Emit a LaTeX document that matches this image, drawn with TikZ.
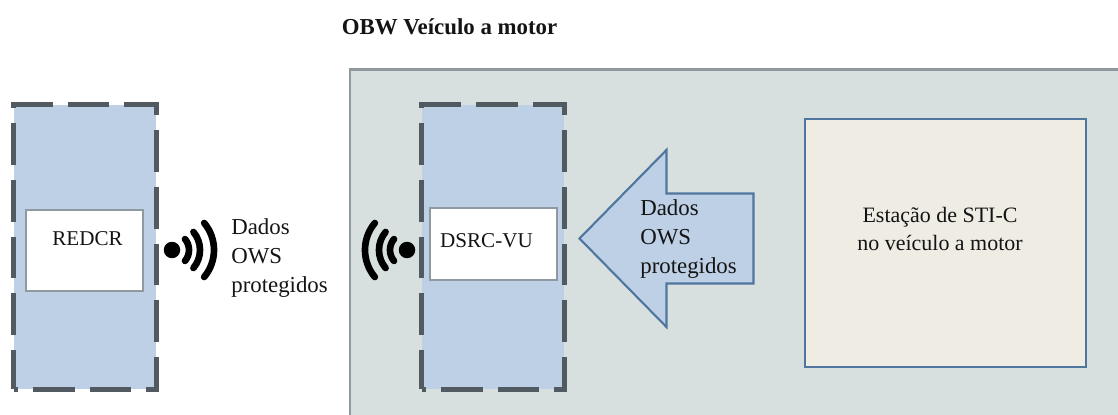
\documentclass[tikz,border=0pt]{standalone}
\usepackage{fontspec}
\setmainfont{Liberation Serif}
\usetikzlibrary{positioning,shapes.arrows}
\definecolor{Ink}{HTML}{141414}
\definecolor{DashGray}{HTML}{505A60}
\definecolor{FrameGray}{HTML}{8F9AA0}
\definecolor{Sage}{HTML}{D7E0DE}
\definecolor{Sky}{HTML}{BDD0E6}
\definecolor{Steel}{HTML}{4F769F}
\definecolor{Cream}{HTML}{EFECE3}
\tikzset{
  unit/.style={
    rectangle, draw=DashGray, fill=Sky, line width=2.8pt,
    dash pattern=on 0.84cm off 0.30cm, dash phase=0.76cm,
    minimum width=2.86cm, minimum height=5.7cm, inner sep=0pt
  },
  module/.style={
    rectangle, draw=FrameGray, fill=white, line width=0.6pt,
    inner xsep=0pt, inner ysep=0pt, text=Ink
  },
  station/.style={
    rectangle, draw=Steel, fill=Cream, line width=1.2pt,
    minimum width=5.62cm, minimum height=4.96cm, inner sep=0pt
  },
  caption/.style={align=left, inner sep=0pt, text=Ink, font=\fontsize{13}{16.5}\selectfont},
  bigarrow/.style={
    single arrow, shape border rotate=180, draw=Steel, fill=Sky, line width=1.2pt,
    minimum height=3.48cm, inner sep=0pt, text height=1.76cm, text depth=0pt, text width=0pt,
    single arrow head extend=0.87cm, single arrow tip angle=91,
    single arrow head indent=0pt
  },
  wave/.style={draw=black, line width=3.8pt, line cap=round},
  wifi/.pic={
    \node[circle, fill=black, minimum size=0.33cm, inner sep=0pt] (-dot) at (0,0) {};
    \foreach \r in {17,28,42}
      \draw[wave] (-40:\r) arc[start angle=-40, end angle=40, radius=\r*0.02cm];
  }
}
\begin{document}
\begin{tikzpicture}[x=0.02cm,y=0.02cm,font=\fontsize{12}{16}\selectfont]
  \useasboundingbox (0,0) rectangle (1118,-415);
  % vehicle frame runs off the page on the right and at the bottom
  \node[rectangle, draw=FrameGray, fill=Sage, line width=1.7pt, anchor=north west,
    minimum width=16cm, minimum height=8cm] (frame) at (348.5,-68) {};
  \node[caption, font=\fontsize{13}{16}\bfseries\selectfont] (title) at (449.5,-27) {OBW Veículo a motor};

  \node[unit] (left) at (85,-247) {};
  \node[unit] (right) at (493,-247) {};

  \node[module, minimum width=2.34cm, text height=0.7cm, text depth=0.92cm] (redcr) at (84.5,-250.5) {\hspace*{0.12cm}REDCR};
  \node[module, minimum width=2.54cm, text height=0.78cm, text depth=0.66cm] (dsrc) at (493.5,-244) {DSRC-VU\hspace*{0.28cm}};

  \pic (wifileft) at (172,-250) {wifi};
  \pic[rotate=180] (wifiright) at (407,-250) {wifi};

  \node[caption, anchor=west] (datos) at (231,-258) {Dados\\OWS\\protegidos};

  \node[bigarrow, anchor=tip] (flow) at (578,-238.5) {};
  \node[caption, anchor=west] (flowtext) at (640,-239) {Dados\\OWS\\protegidos};

  \node[station] (stic) at (945.5,-243) {};
  \node[caption, align=center, font=\fontsize{12.5}{16}\selectfont] (stictext) at (940,-229) {Estação de STI-C\\no veículo a motor};
\end{tikzpicture}
\end{document}
